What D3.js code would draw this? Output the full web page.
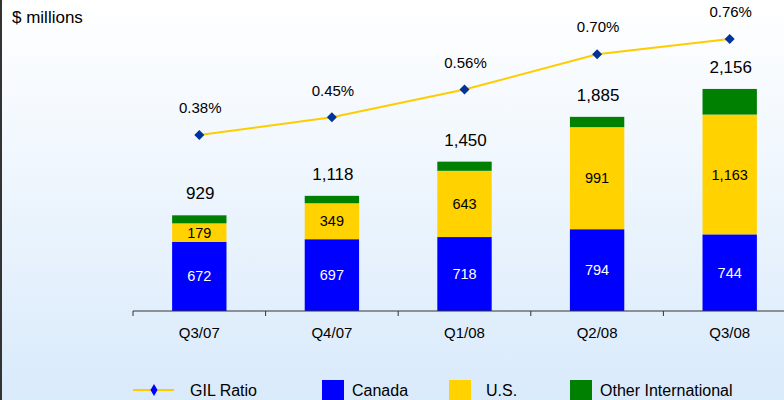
<!DOCTYPE html>
<meta charset="utf-8">
<style>
body { margin: 0; font-family: Arial, "Liberation Sans", sans-serif; }
svg text { fill: #000; }
</style>
<body>
<script src="https://d3js.org/d3.v7.min.js"></script>
<script>
var quarters = ["Q3/07", "Q4/07", "Q1/08", "Q2/08", "Q3/08"];
var canada = [672, 697, 718, 794, 744];
var us = [179, 349, 643, 991, 1163];
var other = [78, 72, 89, 100, 249];
var totals = [929, 1118, 1450, 1885, 2156];
var gilRatio = [0.38, 0.45, 0.56, 0.70, 0.76];

var width = 784, height = 400;
var colors = {canada: "#0000ff", us: "#ffd200", other: "#008000"};

var svg = d3.select("body").append("svg")
    .attr("width", width)
    .attr("height", height);

var grad = svg.append("defs").append("linearGradient")
    .attr("id", "bg").attr("x1", 0).attr("y1", 0).attr("x2", 0).attr("y2", 1);
grad.append("stop").attr("offset", "0%").attr("stop-color", "#ffffff");
grad.append("stop").attr("offset", "100%").attr("stop-color", "#d9eafb");

svg.append("rect").attr("width", width).attr("height", height).attr("fill", "url(#bg)");
svg.append("rect").attr("x", 0).attr("y", 0).attr("width", 2).attr("height", height).attr("fill", "#333");

var x = d3.scaleBand().domain(quarters).range([133, 796]).paddingInner(0.59).paddingOuter(0.295);
var y = d3.scaleLinear().domain([0, 3000]).range([311, 2]);
var y2 = d3.scaleLinear().domain([0, 0.9]).range([231, 3.7]);

var rows = quarters.map(function(q, i) {
  return {q: q, canada: canada[i], us: us[i], other: other[i]};
});
var stack = d3.stack().keys(["canada", "us", "other"])(rows);

svg.append("g").selectAll("g")
    .data(stack)
  .enter().append("g")
    .attr("fill", function(d) { return colors[d.key]; })
  .selectAll("rect")
    .data(function(d) { return d; })
  .enter().append("rect")
    .attr("x", function(d) { return x(d.data.q); })
    .attr("width", x.bandwidth())
    .attr("y", function(d) { return y(d[1]); })
    .attr("height", function(d) { return y(d[0]) - y(d[1]); });

// segment labels
var fmt = d3.format(",");
svg.append("g").selectAll("text")
    .data(rows)
  .enter().append("text")
    .attr("x", function(d) { return x(d.q) + x.bandwidth() / 2; })
    .attr("y", function(d) { return y(d.canada / 2); })
    .attr("dy", "0.35em")
    .attr("text-anchor", "middle")
    .style("font-size", "14.5px")
    .style("fill", "#fff")
    .text(function(d) { return fmt(d.canada); });

svg.append("g").selectAll("text")
    .data(rows)
  .enter().append("text")
    .attr("x", function(d) { return x(d.q) + x.bandwidth() / 2; })
    .attr("y", function(d) { return y(d.canada + d.us / 2); })
    .attr("dy", "0.35em")
    .attr("text-anchor", "middle")
    .style("font-size", "14.5px")
    .text(function(d) { return fmt(d.us); });

// totals
svg.append("g").selectAll("text")
    .data(totals)
  .enter().append("text")
    .attr("x", function(d, i) { return x(quarters[i]) + x.bandwidth() / 2 + 1; })
    .attr("y", function(d) { return y(d) - 22; })
    .attr("dy", "0.35em")
    .attr("text-anchor", "middle")
    .style("font-size", "17px")
    .text(function(d) { return fmt(d); });

// x axis
var xAxis = svg.append("g").attr("transform", "translate(0,311)");
xAxis.append("line").attr("x1", 133).attr("x2", width).attr("stroke", "#333");
xAxis.selectAll(".tk")
    .data(quarters)
  .enter().append("line")
    .attr("x1", function(d) { return x(d) - x.step() * 0.295; })
    .attr("x2", function(d) { return x(d) - x.step() * 0.295; })
    .attr("y1", 0).attr("y2", 5)
    .attr("stroke", "#333");
xAxis.selectAll("text")
    .data(quarters)
  .enter().append("text")
    .attr("x", function(d) { return x(d) + x.bandwidth() / 2; })
    .attr("y", 22)
    .attr("dy", "0.35em")
    .attr("text-anchor", "middle")
    .style("font-size", "15px")
    .text(function(d) { return d; });

// GIL ratio line
var line = d3.line()
    .x(function(d, i) { return x(quarters[i]) + x.bandwidth() / 2; })
    .y(function(d) { return y2(d); });
svg.append("path").datum(gilRatio)
    .attr("d", line)
    .attr("fill", "none")
    .attr("stroke", "#ffcc00")
    .attr("stroke-width", 2);

var diamond = d3.symbol().type(d3.symbolSquare).size(50);
svg.append("g").selectAll("path")
    .data(gilRatio)
  .enter().append("path")
    .attr("d", diamond)
    .attr("transform", function(d, i) {
      return "translate(" + (x(quarters[i]) + x.bandwidth() / 2) + "," + y2(d) + ") rotate(45)";
    })
    .attr("fill", "#003399");

svg.append("g").selectAll("text")
    .data(gilRatio)
  .enter().append("text")
    .attr("x", function(d, i) { return x(quarters[i]) + x.bandwidth() / 2 + 1; })
    .attr("y", function(d) { return y2(d) - 27; })
    .attr("dy", "0.35em")
    .attr("text-anchor", "middle")
    .style("font-size", "15px")
    .text(function(d) { return d.toFixed(2) + "%"; });

svg.append("text")
    .attr("x", 12).attr("y", 17)
    .attr("dy", "0.35em")
    .style("font-size", "17px")
    .text("$ millions");

// legend
var ly = 390;
var legend = svg.append("g");
legend.append("line").attr("x1", 133).attr("x2", 174).attr("y1", ly).attr("y2", ly)
    .attr("stroke", "#ffcc00").attr("stroke-width", 2);
legend.append("path").attr("d", "M0,-6L3.5,0L0,6L-3.5,0Z")
    .attr("transform", "translate(154," + ly + ")")
    .attr("fill", "#0000ff");
legend.append("text").attr("x", 190).attr("y", ly).attr("dy", "0.35em")
    .style("font-size", "16px").text("GIL Ratio");

var keys = [
  {name: "Canada", color: colors.canada, x: 322},
  {name: "U.S.", color: colors.us, x: 449},
  {name: "Other International", color: colors.other, x: 570}
];
var items = legend.selectAll(".item")
    .data(keys)
  .enter().append("g");
items.append("rect")
    .attr("x", function(d) { return d.x; })
    .attr("y", 380).attr("width", 22).attr("height", 22)
    .attr("fill", function(d) { return d.color; });
items.append("text")
    .attr("x", function(d) { return d.x + (d.name === "Canada" ? 30 : d.name === "U.S." ? 37 : 30); })
    .attr("y", ly).attr("dy", "0.35em")
    .style("font-size", "16px")
    .text(function(d) { return d.name; });
</script>
</body>
